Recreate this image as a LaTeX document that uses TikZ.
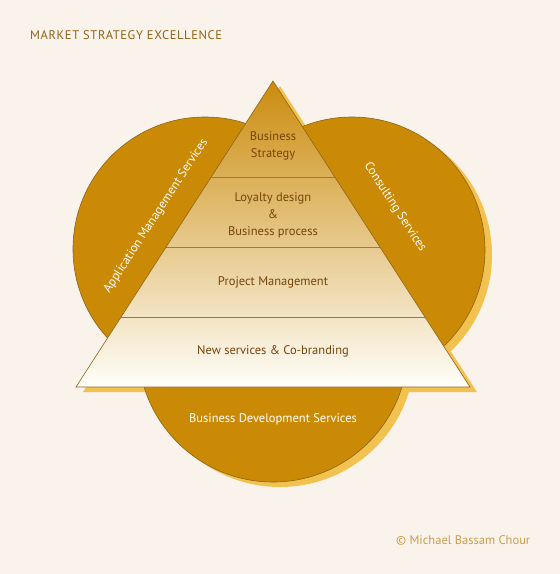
\documentclass[tikz,border=0pt]{standalone}
\usepackage{fontspec}
\setmainfont{PT Sans}
\usetikzlibrary{calc}
\definecolor{bgcream}{RGB}{250,243,236}
\definecolor{circgold}{RGB}{203,138,6}
\definecolor{shadowgold}{RGB}{242,194,80}
\definecolor{edgebrown}{RGB}{140,100,22}
\definecolor{layerbrown}{RGB}{118,68,10}
\definecolor{titlegold}{RGB}{142,98,19}
\definecolor{signgold}{RGB}{200,158,78}
\definecolor{apexgold}{RGB}{203,140,14}
\definecolor{midgold}{RGB}{227,190,120}
\definecolor{basewhite}{RGB}{255,254,250}

\begin{document}
\begin{tikzpicture}[x=1pt, y=-1pt,
  ring/.style={fill=circgold, draw=edgebrown, line width=0.6pt},
  ringshadow/.style={fill=shadowgold},
  layertext/.style={text=layerbrown, font=\fontsize{12.5}{17}\selectfont, align=center},
  ringtext/.style={text=white, font=\fontsize{12.5}{17}\selectfont}]
  % Canvas
  \fill[bgcream] (0,0) rectangle (560,574);
  \useasboundingbox (0,0) rectangle (560,574);

  % Key points
  \coordinate (apex) at (273,81);
  \coordinate (bl) at (76,387);
  \coordinate (br) at (470,387);
  \coordinate (appc) at (205,249);
  \coordinate (conc) at (352,250);
  \coordinate (bdc) at (273,347);

  % Shadows
  \fill[ringshadow] ([shift={(7,5)}]apex) -- ([shift={(7,5)}]bl) -- ([shift={(7,5)}]br) -- cycle;
  \fill[ringshadow] ([shift={(7,5)}]appc) circle[radius=132pt];
  \fill[ringshadow] ([shift={(7,5)}]conc) circle[radius=133pt];
  \fill[ringshadow] ([shift={(7,5)}]bdc) circle[radius=135pt];

  % Service circles
  \draw[ring] (appc) circle[radius=132pt];
  \draw[ring] (conc) circle[radius=133pt];
  \draw[ring] (bdc) circle[radius=135pt];

  % Pyramid
  \shade[top color=apexgold, middle color=midgold, bottom color=basewhite] (apex) -- (bl) -- (br) -- cycle;
  \foreach \t in {0.3137, 0.5425, 0.7712}
    \draw[edgebrown!85, line width=0.6pt] ($(apex)!\t!(bl)$) -- ($(apex)!\t!(br)$);
  \draw[edgebrown, line width=0.6pt, line join=miter] (apex) -- (bl) -- (br) -- cycle;

  % Layer labels
  \node[layertext] (strategy) at (273,146) {Business\\Strategy};
  \node[layertext] (loyalty) at (273,215) {Loyalty design\\\&\\Business process};
  \node[layertext] (project) at (273,282) {Project Management};
  \node[layertext] (newserv) at (273,351) {New services \& Co-branding};

  % Circle labels
  \node[ringtext, rotate=57] (appmgmt) at (156,216) {Application Management Services};
  \node[ringtext, rotate=-57] (consult) at (395,207) {Consulting Services};
  \node[ringtext] (bizdev) at (273,419) {Business Development Services};

  % Title and credit
  \node[anchor=west, inner sep=0pt, text=titlegold, font=\fontsize{12.5}{15}\selectfont\addfontfeature{LetterSpace=5}] (title) at (30,35) {MARKET STRATEGY EXCELLENCE};
  \node[anchor=west, inner sep=0pt, text=signgold, font=\fontsize{12.5}{15}\selectfont] (credit) at (396,540) {© Michael Bassam Chour};
\end{tikzpicture}
\end{document}
